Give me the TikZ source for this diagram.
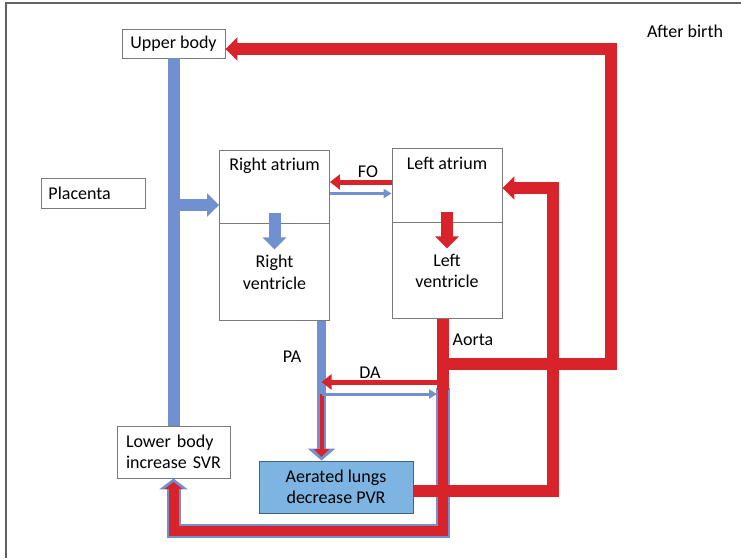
\documentclass[tikz,border=0pt]{standalone}
\usepackage{fontspec}
\setmainfont{Carlito}
\usetikzlibrary{arrows.meta, positioning, calc}
\definecolor{vblue}{HTML}{7090D0}
\definecolor{ared}{HTML}{D9232A}
\definecolor{boxgray}{HTML}{7A7A7A}
\definecolor{lungblue}{HTML}{7DB4E2}
\definecolor{lungedge}{HTML}{44607A}
\newcommand\labelsize{\fontsize{18}{21.5}\selectfont}
\tikzset{
  organ/.style={rectangle, draw=boxgray, line width=0.9pt, fill=white, inner sep=0pt, font=\labelsize},
  chamber/.style={organ, minimum width=110pt},
  tag/.style={inner sep=0pt, font=\labelsize},
  bluepipe/.style={draw=vblue, line width=12pt},
  redpipe/.style={draw=ared, line width=12pt},
  fattip/.style={-{Triangle[width=23pt,length=12pt]}},
  midtip/.style={-{Triangle[width=15pt,length=10pt]}},
  thintip/.style={-{Triangle[width=9pt,length=8pt]}},
}

\begin{document}
\begin{tikzpicture}[x=1pt, y=-1pt]
  \useasboundingbox (0,0) rectangle (741,558);
  \draw[boxgray!80!black, line width=1.5pt] (6,558) -- (6,3) -- (741,3);

  % organs and chambers
  \node[organ, minimum width=103pt, minimum height=29pt] (ub) at (173.5,43.5) {Upper body};
  \node[organ, anchor=west, text width=90pt, inner xsep=7pt, minimum height=30pt] (pla) at (41,193) {Placenta};
  \node[chamber, minimum height=73pt, label={[tag, anchor=north, yshift=-8pt]north:Right atrium}] (ra) at (274.5,186.5) {};
  \node[chamber, minimum height=97pt, below=0pt of ra, align=center] (rv) {Right\\ventricle};
  \node[chamber, minimum height=73.5pt, label={[tag, anchor=north, yshift=-9pt]north:Left atrium}] (la) at (447,185.25) {};
  \node[chamber, minimum height=96pt, below=0pt of la, align=center] (lv) {Left\\ventricle};
  \node[organ, text width=95pt, inner xsep=9pt, minimum height=52pt, align=left] (lb) at (173.5,452) {Lower body\\increase SVR};
  \node[organ, fill=lungblue, draw=lungedge, minimum width=154pt, minimum height=52pt, align=center] (lungs) at (336,487) {Aerated lungs\\decrease PVR};

  \node[tag] (after) at (685,31) {After birth};
  \node[tag] (fo) at (368,172) {FO};
  \node[tag] (patag) at (292,357) {PA};
  \node[tag] (datag) at (370,373) {DA};
  \node[tag] (aotag) at (473,340) {Aorta};

  \coordinate (pa) at ([xshift=47pt]rv.south);
  \coordinate (ao) at ([xshift=-4pt]lv.south);

  % venous side
  \draw[bluepipe] (ub.south) -- (ub.south |- lb.north);
  \draw[bluepipe, fattip] (ub.south |- 0,205) -- (ra.west |- 0,205);
  \draw[bluepipe, fattip] ([yshift=10pt]ra.south) -- ([yshift=-26pt]ra.south);
  \draw[vblue, line width=3pt, thintip] (ra.east |- 0,193.5) -- (la.west |- 0,193.5);
  \draw[ared, line width=5pt, midtip] (la.west |- 0,182) -- (ra.east |- 0,182);

  % pulmonary artery and duct
  \draw[vblue, line width=9pt, -{Triangle[width=27pt,length=12pt]}] (pa) -- (pa |- lungs.north);
  \draw[ared, line width=4pt, -{Triangle[width=15pt,length=8pt]}] (pa |- 0,394) -- (pa |- 0,457);
  \draw[vblue, line width=3pt, thintip] (pa |- 0,394) -- ([xshift=-6pt]ao |- 0,394);

  % mixed return to lower body
  \draw[vblue, line width=14pt, -{Triangle[width=28pt,length=11pt]}] (ao |- 0,388) -- (ao |- 0,531) -- (lb.south |- 0,531) -- (lb.south);
  \draw[ared, line width=10pt, -{Triangle[width=18pt,length=7pt]}] (ao |- 0,390) -- (ao |- 0,531) -- (lb.south |- 0,531) -- (lb.south |- 0,482);

  % aorta
  \draw[redpipe] (ao) -- (ao |- 0,390);
  \draw[ared, line width=5pt, midtip] (ao |- 0,382) -- (pa |- 0,382);
  \draw[redpipe, fattip] (ao |- 0,364) -- (611,364) -- (611,49) -- (ub.east |- 0,49);

  % pulmonary veins
  \draw[redpipe, fattip] (lungs.east |- 0,491) -- (553,491) -- (553,188) -- (la.east |- 0,188);
  \draw[redpipe, fattip] ([yshift=10pt]la.south) -- ([yshift=-26pt]la.south);
\end{tikzpicture}
\end{document}
